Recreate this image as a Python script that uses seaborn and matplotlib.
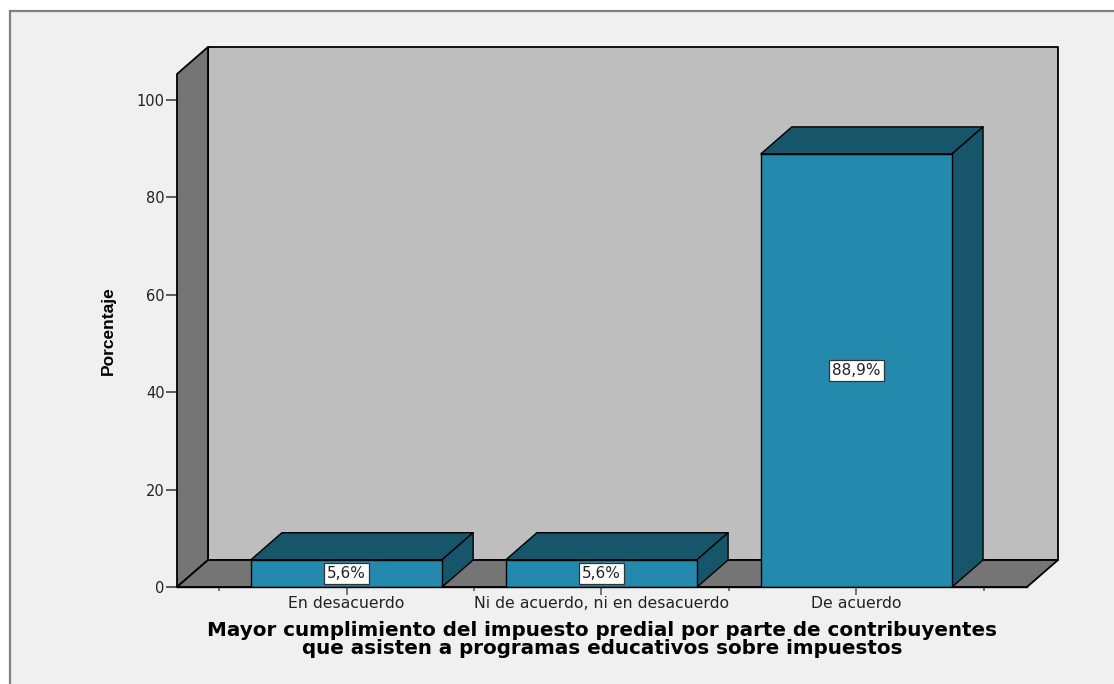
import matplotlib
matplotlib.use('Agg')
import matplotlib.pyplot as plt
from matplotlib.patches import Polygon, Rectangle
from matplotlib.ticker import FixedLocator
import pandas as pd
import seaborn as sns

categories = ['En desacuerdo', 'Ni de acuerdo, ni en desacuerdo', 'De acuerdo']
values = [5.6, 5.6, 88.9]
value_labels = ['5,6%', '5,6%', '88,9%']
y_ticks = [0, 20, 40, 60, 80, 100]
x_title = ('Mayor cumplimiento del impuesto predial por parte de contribuyentes\n'
           'que asisten a programas educativos sobre impuestos')
y_title = 'Porcentaje'

BAR = '#248AAD'
BAR_DARK = '#17566A'
WALL = '#BEBEBE'
FLOOR = '#757575'
BG = '#F0F0F0'
W, H = 1114, 684
DEPTH_X, DEPTH_Y = 31, 27  # pixels

sns.set_theme(style="white")
plt.rcParams['font.family'] = ['DejaVu Sans']

df = pd.DataFrame({'categoria': categories, 'porcentaje': values})

fig = plt.figure(figsize=(W / 100, H / 100), dpi=100, facecolor='white')
fig.add_artist(Rectangle((10 / W, -0.1), 1.1, 1.1 - 11 / H, transform=fig.transFigure,
                         facecolor=BG, edgecolor='#808080', linewidth=1.6, zorder=-5))

ax = fig.add_axes([177 / W, 97 / H, 850 / W, 513 / H])
ax.patch.set_visible(False)

sns.barplot(data=df, x='categoria', y='porcentaje', color=BAR, saturation=1, width=0.75,
            edgecolor='black', linewidth=1.0, ax=ax, zorder=3)

ax.set_xlim(-0.665, 2.669)
ax.set_ylim(0, 105.3)
xmin, xmax = ax.get_xlim()
ymin, ymax = ax.get_ylim()
dx = DEPTH_X * (xmax - xmin) / 850
dy = DEPTH_Y * (ymax - ymin) / 513


def face(points, color, z, lw=1.0):
    ax.add_patch(Polygon(points, closed=True, facecolor=color, edgecolor='black',
                         linewidth=lw, zorder=z, clip_on=False, joinstyle='round'))


# Walls and floor of the 3D box
face([(xmin + dx, dy), (xmax + dx, dy), (xmax + dx, ymax + dy), (xmin + dx, ymax + dy)], WALL, 0, 1.3)
face([(xmin, 0), (xmin + dx, dy), (xmin + dx, ymax + dy), (xmin, ymax)], FLOOR, 1, 1.3)
face([(xmin, 0), (xmax, 0), (xmax + dx, dy), (xmin + dx, dy)], FLOOR, 1, 1.3)

# Depth faces for every bar
for bar in ax.patches[:]:
    if not isinstance(bar, Rectangle):
        continue
    x0, x1, top = bar.get_x(), bar.get_x() + bar.get_width(), bar.get_height()
    face([(x0, top), (x1, top), (x1 + dx, top + dy), (x0 + dx, top + dy)], BAR_DARK, 2)
    face([(x1, 0), (x1 + dx, dy), (x1 + dx, top + dy), (x1, top)], BAR_DARK, 2)

for i, (v, label) in enumerate(zip(values, value_labels)):
    ax.text(i, v / 2, label, ha='center', va='center', fontsize=11, color='#222222', zorder=5,
            bbox=dict(facecolor='white', edgecolor='#333333', linewidth=0.9,
                      boxstyle='square,pad=0.2'))

sns.despine(ax=ax, left=True, top=True, right=True)
ax.spines['bottom'].set_linewidth(1.0)
ax.spines['bottom'].set_color('black')
ax.spines['bottom'].set_zorder(4)

ax.set_yticks(y_ticks)
ax.tick_params(axis='y', length=8, width=1.1, color='#333333', labelsize=10.5,
               labelcolor='#222222', left=True, pad=1)
ax.set_xticks(range(len(categories)))
ax.set_xticklabels(categories)
ax.xaxis.set_minor_locator(FixedLocator([-0.5, 0.5, 1.5, 2.5]))
ax.tick_params(axis='x', which='major', length=6, width=1.1, color='#555555', labelsize=11.3,
               labelcolor='#222222', bottom=True, pad=0.5)
ax.tick_params(axis='x', which='minor', length=3, width=1.1, color='#555555', bottom=True)

ax.set_xlabel(x_title, fontsize=14.35, fontweight='bold', color='black',
              linespacing=0.93, labelpad=7.5)
ax.set_ylabel(y_title, fontsize=12.5, fontweight='bold', color='black', labelpad=15,
              family='Liberation Sans')

fig.savefig('out.png', dpi=100)
